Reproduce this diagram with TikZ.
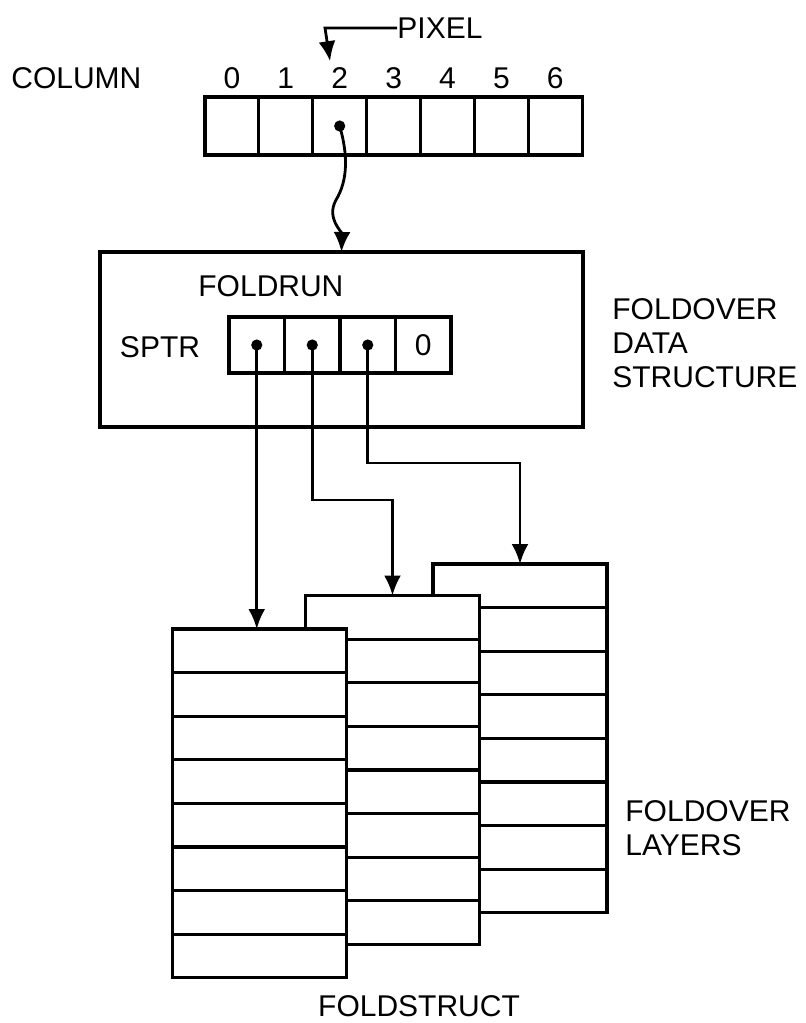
\documentclass[tikz,border=0pt]{standalone}
\usepackage{fontspec}
\setmainfont{Liberation Sans}
\usetikzlibrary{arrows.meta}

\tikzset{
  lbl/.style={inner sep=0pt, font=\fontsize{15}{17}\selectfont},
  cell/.style={draw, line width=1.6pt, inner sep=0pt, outer sep=0pt},
  pixcell/.style={cell, minimum width=26.95pt, minimum height=29pt},
  ptrcell/.style={cell, lbl, minimum width=27.75pt, minimum height=28pt},
  layerrow/.style={cell, fill=white, minimum width=87pt, minimum height=21.8pt},
  ptr/.style={line width=1.4pt, -{Latex[length=10pt,width=8.5pt]}},
  dot/.style={circle, fill, inner sep=0pt, minimum size=5.6pt},
}

\begin{document}
\begin{tikzpicture}[x=0.5pt, y=-0.5pt]
  \useasboundingbox (0,0) rectangle (805,1023);

  % Pixel row of one scan line
  \node[lbl, anchor=west] (column) at (11,78) {COLUMN};
  \foreach \i in {0,...,6} {
    \node[pixcell] (c\i) at (231.9+53.9*\i, 126) {};
    \node[lbl] (n\i) at (231.9+53.9*\i, 78) {\i};
  }
  \node[lbl, anchor=west] (pixel) at (397,28) {PIXEL};
  \coordinate (bend) at (325,28);
  \draw[ptr, shorten >=3pt] (pixel.west) -- (bend) -- (n2.north west);

  % Foldover data structure
  \node[cell, minimum width=241.5pt, minimum height=87.5pt] (fold) at (341.5,339.5) {};
  \draw[ptr] (c2.center) .. controls (348,155) and (348,180) .. (336,200)
    .. controls (326,218) and (342,232) .. (fold.north);
  \node[dot] (d2) at (c2.center) {};

  \node[lbl, anchor=west] (foldrun) at (198,286) {FOLDRUN};
  \node[lbl] (sptr) at (160,347) {SPTR};
  \foreach \i/\t in {0/{},1/{},2/{},3/0}
    \node[ptrcell] (s\i) at (256.75+55.5*\i, 345) {\t};
  \foreach \i in {0,1,2}
    \node[dot] (p\i) at (s\i.center) {};
  \node[lbl, anchor=north west, align=left] (fds) at (612,298) {FOLDOVER\\DATA\\STRUCTURE};

  % Foldover layers (back to front)
  \foreach \s/\x/\y in {bk/520/564, md/392.5/595.5, fr/259.5/629}
    \foreach \i in {1,...,8}
      \node[layerrow] (\s\i) at (\x, \y+43.6*\i-21.8) {};

  % Pointers into the layers
  \coordinate (k1) at (392.5,500);
  \coordinate (k2) at (520,463);
  \draw[ptr] (p0.center) -- (p0.center |- fr1.north);
  \draw[ptr] (p1.center) |- (k1) -- (md1.north);
  \draw[ptr] (p2.center) |- (k2) -- (bk1.north);

  \node[lbl, anchor=north west, align=left] (fl) at (625,800) {FOLDOVER\\LAYERS};
  \node[lbl] (fs) at (419,1006) {FOLDSTRUCT};
\end{tikzpicture}
\end{document}
